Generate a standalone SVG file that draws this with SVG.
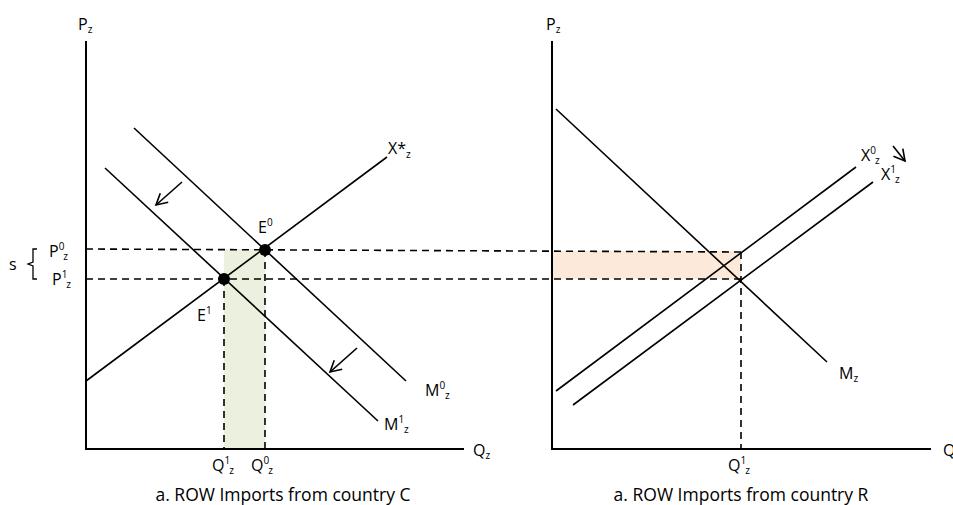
<svg xmlns="http://www.w3.org/2000/svg" width="953" height="505" viewBox="0 0 953 505">
<defs>
<style>
.ax{stroke:#000;stroke-width:2;fill:none}
.ln{stroke:#000;stroke-width:1.6;fill:none}
.ds{stroke:#000;stroke-width:1.6;fill:none;stroke-dasharray:7,5}
.t{font-family:"Open Sans","Liberation Sans",sans-serif;font-size:16px;fill:#000}
.s{font-size:10px}
.cap{font-family:"Open Sans","Liberation Sans",sans-serif;font-size:17.5px;fill:#000}
</style>
<marker id="arr" markerWidth="14" markerHeight="14" refX="12" refY="7" orient="auto" markerUnits="userSpaceOnUse">
<path d="M1,1 L12,7 L1,13" fill="none" stroke="#000" stroke-width="1.6"/>
</marker>
</defs>
<rect width="953" height="505" fill="#fff"/>
<g id="shading">
<rect x="224" y="249" width="41" height="200" fill="#ebf1de"/>
<rect x="552" y="251" width="189" height="28" fill="#fde9d9"/>
</g>
<g id="connectors">
<line class="ds" x1="86" y1="249" x2="741" y2="252"/>
<line class="ds" x1="86" y1="279" x2="741" y2="279"/>
<line class="ds" x1="224" y1="279" x2="224" y2="449"/>
<line class="ds" x1="265" y1="250" x2="265" y2="449"/>
<line class="ds" x1="741" y1="252" x2="741" y2="449"/>
<line class="ln" x1="182" y1="182" x2="156" y2="205" marker-end="url(#arr)"/>
<line class="ln" x1="357" y1="348" x2="330" y2="372" marker-end="url(#arr)"/>
<line class="ln" x1="893" y1="146" x2="905" y2="161" marker-end="url(#arr)"/>
</g>
<g id="left-axes">
<line class="ax" x1="86" y1="41" x2="86" y2="449"/>
<line class="ax" x1="85" y1="449" x2="464" y2="449"/>
<text class="t" x="78" y="30">P<tspan class="s" dy="3">z</tspan></text>
<text class="t" x="473" y="456">Q<tspan class="s" dy="3">z</tspan></text>
</g>
<g id="left-curves">
<line class="ln" x1="86" y1="381" x2="387" y2="157"/>
<line class="ln" x1="134" y1="128" x2="406" y2="381"/>
<line class="ln" x1="105" y1="168" x2="378" y2="421"/>
<text class="t" x="388" y="154">X*<tspan class="s" dy="4">z</tspan></text>
<text class="t" x="425" y="396">M<tspan class="s" dy="-7">0</tspan><tspan class="s" dy="10">z</tspan></text>
<text class="t" x="384" y="430">M<tspan class="s" dy="-7">1</tspan><tspan class="s" dy="10">z</tspan></text>
</g>
<g id="E0">
<circle cx="265" cy="250" r="6"/>
<text class="t" x="258" y="233">E<tspan class="s" dy="-7">0</tspan></text>
</g>
<g id="E1">
<circle cx="224" cy="279" r="6"/>
<text class="t" x="197" y="321">E<tspan class="s" dy="-7">1</tspan></text>
</g>
<g id="left-labels">
<text class="t" x="49" y="257">P<tspan class="s" dy="-7">0</tspan><tspan class="s" dx="-1" dy="10">z</tspan></text>
<text class="t" x="52" y="285">P<tspan class="s" dy="-7">1</tspan><tspan class="s" dx="-1" dy="10">z</tspan></text>
<text class="t" x="9" y="270">s</text>
<path d="M37,249 L33,249 L33,262 L28,264 L33,266 L33,279 L37,279" fill="none" stroke="#000" stroke-width="1.3"/>
<text class="t" x="212" y="471">Q<tspan class="s" dy="-7">1</tspan><tspan class="s" dx="-1" dy="10">z</tspan></text>
<text class="t" x="251" y="471">Q<tspan class="s" dy="-7">0</tspan><tspan class="s" dx="-1" dy="10">z</tspan></text>
<text class="cap" x="283" y="501" text-anchor="middle">a. ROW Imports from country C</text>
</g>
<g id="right-axes">
<line class="ax" x1="552" y1="41" x2="552" y2="449"/>
<line class="ax" x1="551" y1="449" x2="931" y2="449"/>
<text class="t" x="546" y="30">P<tspan class="s" dy="3">z</tspan></text>
<text class="t" x="943" y="456">Q<tspan class="s" dy="3">z</tspan></text>
</g>
<g id="right-curves">
<line class="ln" x1="556" y1="109" x2="827" y2="362"/>
<line class="ln" x1="556" y1="391" x2="856" y2="167"/>
<line class="ln" x1="573" y1="405" x2="873" y2="182"/>
<text class="t" x="839" y="379">M<tspan class="s" dy="3">z</tspan></text>
<text class="t" x="861" y="161">X<tspan class="s" dy="-7">0</tspan><tspan class="s" dx="-1" dy="10">z</tspan></text>
<text class="t" x="881" y="180">X<tspan class="s" dy="-7">1</tspan><tspan class="s" dx="-1" dy="10">z</tspan></text>
<text class="t" x="728" y="471">Q<tspan class="s" dy="-7">1</tspan><tspan class="s" dx="-1" dy="10">z</tspan></text>
<text class="cap" x="741" y="501" text-anchor="middle">a. ROW Imports from country R</text>
</g>
</svg>
